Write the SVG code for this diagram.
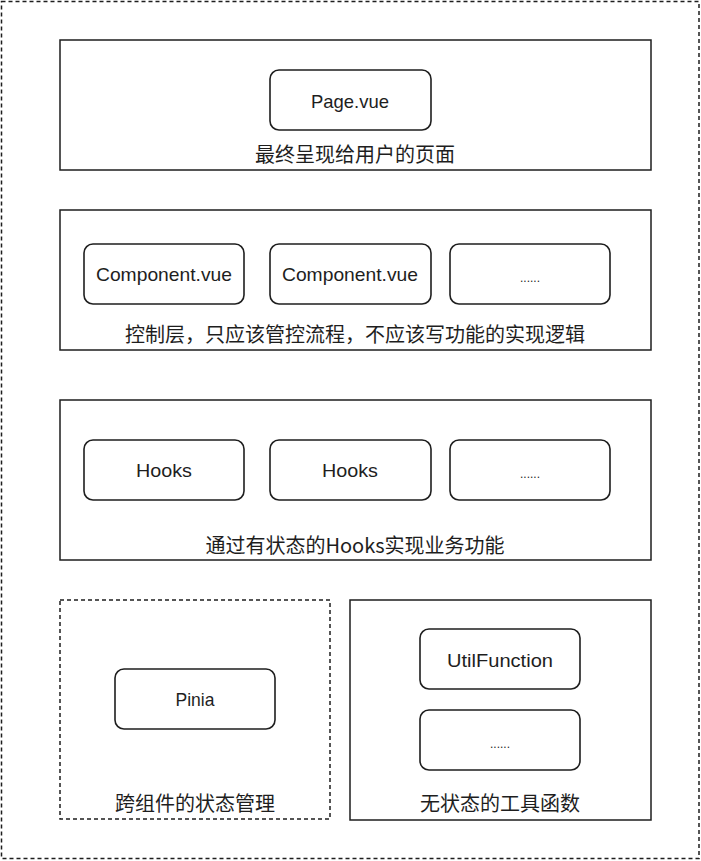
<svg xmlns="http://www.w3.org/2000/svg" width="701" height="861" viewBox="0 0 701 861">
<style>
  .frame { fill: none; stroke: #1e1e1e; stroke-width: 1.5; }
  .dash { stroke-dasharray: 4 3; }
  .node { fill: #ffffff; stroke: #1e1e1e; stroke-width: 1.6; }
  .ntext { font-family: "Liberation Sans", Arial, sans-serif; font-size: 19px; fill: #1e1e1e; text-anchor: middle; }
  .dots { font-family: "Liberation Sans", Arial, sans-serif; font-size: 12px; fill: #1e1e1e; text-anchor: middle; }
  .label { font-family: "Noto Sans CJK SC", "Noto Sans", sans-serif; font-size: 20px; fill: #1e1e1e; text-anchor: middle; }
</style>
<rect width="701" height="861" fill="#ffffff"/>

<g id="outer">
  <rect class="frame dash" x="1.5" y="1.5" width="697.5" height="857"/>
</g>

<g id="layer-page">
  <rect class="frame" x="60" y="40" width="591" height="130"/>
  <text class="label" x="355" y="162">最终呈现给用户的页面</text>
</g>
<g id="node-page">
  <rect class="node" x="270" y="70" width="161" height="60" rx="9"/>
  <text class="ntext" x="350" y="108" textLength="78" lengthAdjust="spacingAndGlyphs">Page.vue</text>
</g>

<g id="layer-component">
  <rect class="frame" x="60" y="210" width="591" height="140"/>
  <text class="label" x="355" y="342">控制层，只应该管控流程，不应该写功能的实现逻辑</text>
</g>
<g id="node-component-1">
  <rect class="node" x="84" y="244" width="160" height="60" rx="9"/>
  <text class="ntext" x="164" y="281" textLength="136" lengthAdjust="spacingAndGlyphs">Component.vue</text>
</g>
<g id="node-component-2">
  <rect class="node" x="270" y="244" width="161" height="60" rx="9"/>
  <text class="ntext" x="350" y="281" textLength="136" lengthAdjust="spacingAndGlyphs">Component.vue</text>
</g>
<g id="node-component-3">
  <rect class="node" x="450" y="244" width="160" height="60" rx="9"/>
  <text class="dots" x="530" y="282">......</text>
</g>

<g id="layer-hooks">
  <rect class="frame" x="60" y="400" width="591" height="160"/>
  <text class="label" x="355" y="553">通过有状态的Hooks实现业务功能</text>
</g>
<g id="node-hooks-1">
  <rect class="node" x="84" y="440" width="160" height="60" rx="9"/>
  <text class="ntext" x="164" y="477" textLength="56" lengthAdjust="spacingAndGlyphs">Hooks</text>
</g>
<g id="node-hooks-2">
  <rect class="node" x="270" y="440" width="161" height="60" rx="9"/>
  <text class="ntext" x="350" y="477" textLength="56" lengthAdjust="spacingAndGlyphs">Hooks</text>
</g>
<g id="node-hooks-3">
  <rect class="node" x="450" y="440" width="160" height="60" rx="9"/>
  <text class="dots" x="530" y="478">......</text>
</g>

<g id="layer-pinia">
  <rect class="frame dash" x="60" y="600" width="270" height="219"/>
  <text class="label" x="195" y="811">跨组件的状态管理</text>
</g>
<g id="node-pinia">
  <rect class="node" x="115" y="669" width="160" height="60" rx="9"/>
  <text class="ntext" x="195" y="706" textLength="39" lengthAdjust="spacingAndGlyphs">Pinia</text>
</g>

<g id="layer-util">
  <rect class="frame" x="350" y="600" width="301" height="220"/>
  <text class="label" x="500" y="811">无状态的工具函数</text>
</g>
<g id="node-util">
  <rect class="node" x="420" y="629" width="160" height="60" rx="9"/>
  <text class="ntext" x="500" y="667" textLength="106" lengthAdjust="spacingAndGlyphs">UtilFunction</text>
</g>
<g id="node-util-more">
  <rect class="node" x="420" y="710" width="160" height="60" rx="9"/>
  <text class="dots" x="500" y="748">......</text>
</g>

<g id="connectors"/>
</svg>
